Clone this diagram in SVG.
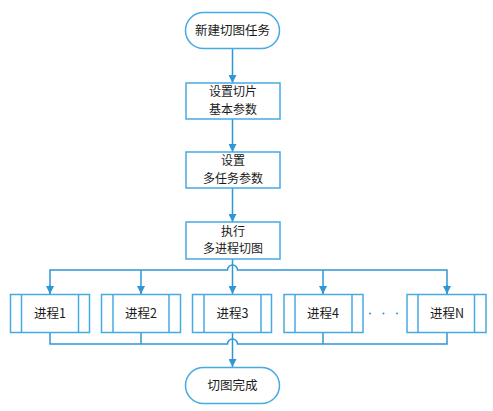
<svg xmlns="http://www.w3.org/2000/svg" width="493" height="411" viewBox="0 0 493 411">
<style>
.shape{fill:#fff;stroke:#45aae2;stroke-width:1.5}
.inner{stroke:#45aae2;stroke-width:1.5;fill:none}
.conn{fill:none;stroke:#2f97d6;stroke-width:1.5}
text{font-family:"Microsoft YaHei","Noto Sans CJK SC","Noto Sans",sans-serif;font-size:12.5px;fill:#1a1a1a;text-anchor:middle}
text.two{font-size:12px}
</style>
<defs>
<marker id="arr" viewBox="0 0 10 10" refX="10" refY="5" markerWidth="8" markerHeight="8" markerUnits="userSpaceOnUse" orient="auto">
<path d="M0,0 L10,5 L0,10 z" fill="#2f97d6"/>
</marker>
</defs>
<g id="connectors">
<path class="conn" d="M232.5,49 V83" marker-end="url(#arr)"/>
<path class="conn" d="M232.5,119 V152" marker-end="url(#arr)"/>
<path class="conn" d="M232.5,188 V222" marker-end="url(#arr)"/>
<path class="conn" d="M232.5,259 V294" marker-end="url(#arr)"/>
<path class="conn" d="M50,294 V270 H227.5 A5,5 0 0 1 237.5,270 H447 V294"/>
<path class="conn" d="M50,285 V294" marker-end="url(#arr)"/>
<path class="conn" d="M447,285 V294" marker-end="url(#arr)"/>
<path class="conn" d="M141,270 V294" marker-end="url(#arr)"/>
<path class="conn" d="M323,270 V294" marker-end="url(#arr)"/>
<path class="conn" d="M50,332 V344 H227.5 A5,5 0 0 1 237.5,344 H447 V332"/>
<path class="conn" d="M141,332 V344"/>
<path class="conn" d="M323,332 V344"/>
<path class="conn" d="M232.5,332 V367" marker-end="url(#arr)"/>
</g>
<g id="start">
<rect class="shape" x="185.5" y="12.5" width="94" height="36" rx="18"/>
<text x="232.5" y="35">新建切图任务</text>
</g>
<g id="step1">
<rect class="shape" x="186" y="83" width="94" height="36"/>
<text class="two" x="233" y="96">设置切片</text>
<text class="two" x="233" y="113.5">基本参数</text>
</g>
<g id="step2">
<rect class="shape" x="186" y="152" width="94" height="36"/>
<text class="two" x="233" y="165">设置</text>
<text class="two" x="233" y="182.5">多任务参数</text>
</g>
<g id="step3">
<rect class="shape" x="186" y="222" width="94" height="37"/>
<text class="two" x="233" y="235.5">执行</text>
<text class="two" x="233" y="253">多进程切图</text>
</g>
<g id="p1">
<rect class="shape" x="10.5" y="294.5" width="79" height="38"/>
<path class="inner" d="M21.5,294.5 V332.5 M78.5,294.5 V332.5"/>
<text x="50" y="318">进程1</text>
</g>
<g id="p2">
<rect class="shape" x="101.5" y="294.5" width="79" height="38"/>
<path class="inner" d="M113,294.5 V332.5 M169,294.5 V332.5"/>
<text x="141" y="318">进程2</text>
</g>
<g id="p3">
<rect class="shape" x="192.5" y="294.5" width="79" height="38"/>
<path class="inner" d="M204,294.5 V332.5 M261,294.5 V332.5"/>
<text x="232.5" y="318">进程3</text>
</g>
<g id="p4">
<rect class="shape" x="284" y="294.5" width="79" height="38"/>
<path class="inner" d="M295,294.5 V332.5 M352,294.5 V332.5"/>
<text x="323" y="318">进程4</text>
</g>
<g id="dots">
<circle cx="370" cy="313.5" r="1" fill="#2f97d6"/>
<circle cx="383.5" cy="313.5" r="1" fill="#2f97d6"/>
<circle cx="397" cy="313.5" r="1" fill="#2f97d6"/>
</g>
<g id="pN">
<rect class="shape" x="407" y="294.5" width="79" height="38"/>
<path class="inner" d="M418,294.5 V332.5 M474.5,294.5 V332.5"/>
<text x="447" y="318">进程N</text>
</g>
<g id="end">
<rect class="shape" x="185.5" y="367.5" width="94" height="36" rx="18"/>
<text x="232.5" y="390">切图完成</text>
</g>
</svg>
